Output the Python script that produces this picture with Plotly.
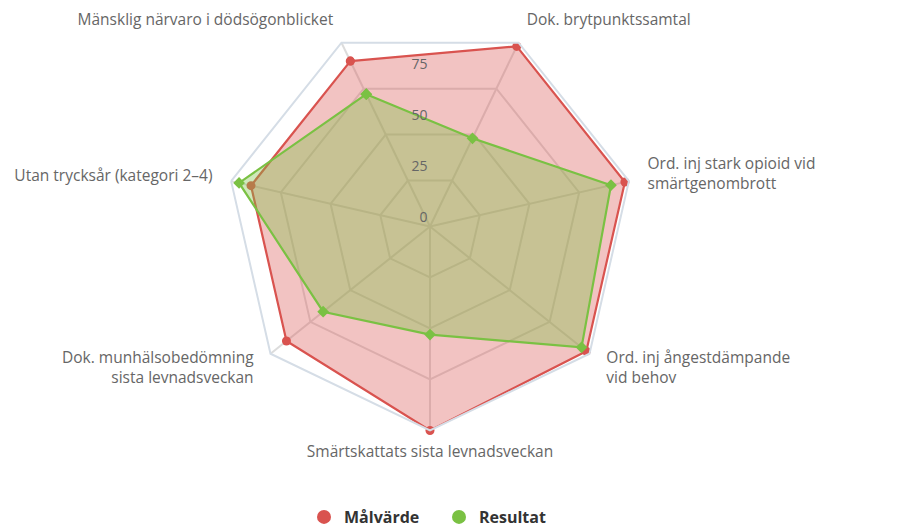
import plotly.graph_objects as go

categories = [
    "Mänsklig närvaro i dödsögonblicket",
    "Dok. brytpunktssamtal",
    "Ord. inj stark opioid vid<br>smärtgenombrott",
    "Ord. inj ångestdämpande<br>vid behov",
    "Smärtskattats sista levnadsveckan",
    "Dok. munhälsobedömning<br>sista levnadsveckan",
    "Utan trycksår (kategori 2–4)",
]
malvarde = [90, 98, 98, 98, 100, 90, 90]
resultat = [72, 48, 91, 95, 53, 67, 96]
radial_ticks = [0, 25, 50, 75]
radial_ticktext = ["0", "25", "50", "75"]

RED = "#d9534f"
GREEN = "#7ac143"

# category labels are split over overlay subplots so each group can be
# placed like in the reference
lower_two_line = {3, 5}
bottom_single = {4}


def pick(idx):
    return [c if i in idx else "" for i, c in enumerate(categories)]


text_upper = [c if i not in (lower_two_line | bottom_single) else ""
              for i, c in enumerate(categories)]
text_lower = pick(lower_two_line)
text_bottom = pick(bottom_single)

fig = go.Figure()
fig.add_trace(go.Scatterpolar(
    r=malvarde + [malvarde[0]], theta=categories + [categories[0]],
    name="Målvärde", mode="lines+markers", fill="toself",
    fillcolor="rgba(217,83,79,0.35)",
    line=dict(color=RED, width=2.2),
    marker=dict(symbol="circle", size=9, color=RED),
    showlegend=False, subplot="polar",
))
fig.add_trace(go.Scatterpolar(
    r=resultat + [resultat[0]], theta=categories + [categories[0]],
    name="Resultat", mode="lines+markers", fill="toself",
    fillcolor="rgba(122,193,67,0.36)",
    line=dict(color=GREEN, width=2.2),
    marker=dict(symbol="diamond", size=9, color=GREEN),
    showlegend=False, subplot="polar",
))
# legend-only entries (circle symbols), living on the radial-label overlay
for nm, col in [("Målvärde", RED), ("Resultat", GREEN)]:
    fig.add_trace(go.Scatterpolar(
        r=[None], theta=[None], name=nm, mode="markers",
        marker=dict(symbol="circle", size=14, color=col), showlegend=True,
        subplot="polar2",
    ))
# empty carrier for the lower category-label overlay
fig.add_trace(go.Scatterpolar(
    r=[None] * len(categories), theta=categories, mode="markers",
    showlegend=False, hoverinfo="skip", subplot="polar3",
))

W, H = 912, 528
cx, cy, R = 430, 226.5, 204


def domain(dy=0):
    return dict(x=[(cx - R) / W, (cx + R) / W],
                y=[(H - cy - R + dy) / H, (H - cy + R + dy) / H])


ang_common = dict(
    type="category", categoryorder="array", categoryarray=categories,
    direction="clockwise", rotation=90 + 180 / 7,
    tickmode="array", tickvals=categories,
    ticks="outside", tickcolor="rgba(0,0,0,0)",
    tickfont=dict(size=15.5, color="#666666"),
)

fig.update_layout(
    width=W, height=H,
    margin=dict(l=0, r=0, t=0, b=0, autoexpand=False),
    paper_bgcolor="white",
    font=dict(family="Open Sans", size=14, color="#666666"),
    polar=dict(
        domain=domain(0),
        bgcolor="rgba(0,0,0,0)",
        gridshape="linear",
        angularaxis=dict(
            **ang_common, ticktext=text_upper, ticklen=15,
            showline=True, linecolor="#d5dde6", linewidth=2,
            showgrid=True, gridcolor="#dcdcdc", gridwidth=1.5,
        ),
        radialaxis=dict(
            range=[0, 100], tickvals=radial_ticks,
            showticklabels=False, showline=False, ticks="", showgrid=True,
            gridcolor="#dcdcdc", gridwidth=1.5,
        ),
    ),
    polar2=dict(
        domain=domain(9),
        bgcolor="rgba(0,0,0,0)",
        angularaxis=dict(
            **ang_common, ticktext=text_bottom, ticklen=16,
            showline=False, showgrid=False,
        ),
        radialaxis=dict(
            range=[0, 100], angle=90, side="counterclockwise", tickangle=90,
            tickvals=radial_ticks, ticktext=radial_ticktext,
            showline=False, ticks="", showgrid=False,
            tickfont=dict(size=14, color="#666666"),
        ),
    ),
    polar3=dict(
        domain=domain(14),
        bgcolor="rgba(0,0,0,0)",
        angularaxis=dict(
            **ang_common, ticktext=text_lower, ticklen=18,
            showline=False, showgrid=False,
        ),
        radialaxis=dict(range=[0, 100], visible=False),
    ),
    legend=dict(
        orientation="h", x=(cx + 9) / W, xanchor="center",
        y=-6 / H, yanchor="bottom", entrywidth=90,
        font=dict(family="Open Sans", size=16, color="#333333", weight="bold"),
        itemsizing="trace",
    ),
    showlegend=True,
)

fig.write_html("out.html", config={"displayModeBar": False},
               post_script="document.body.style.margin='0px';")
